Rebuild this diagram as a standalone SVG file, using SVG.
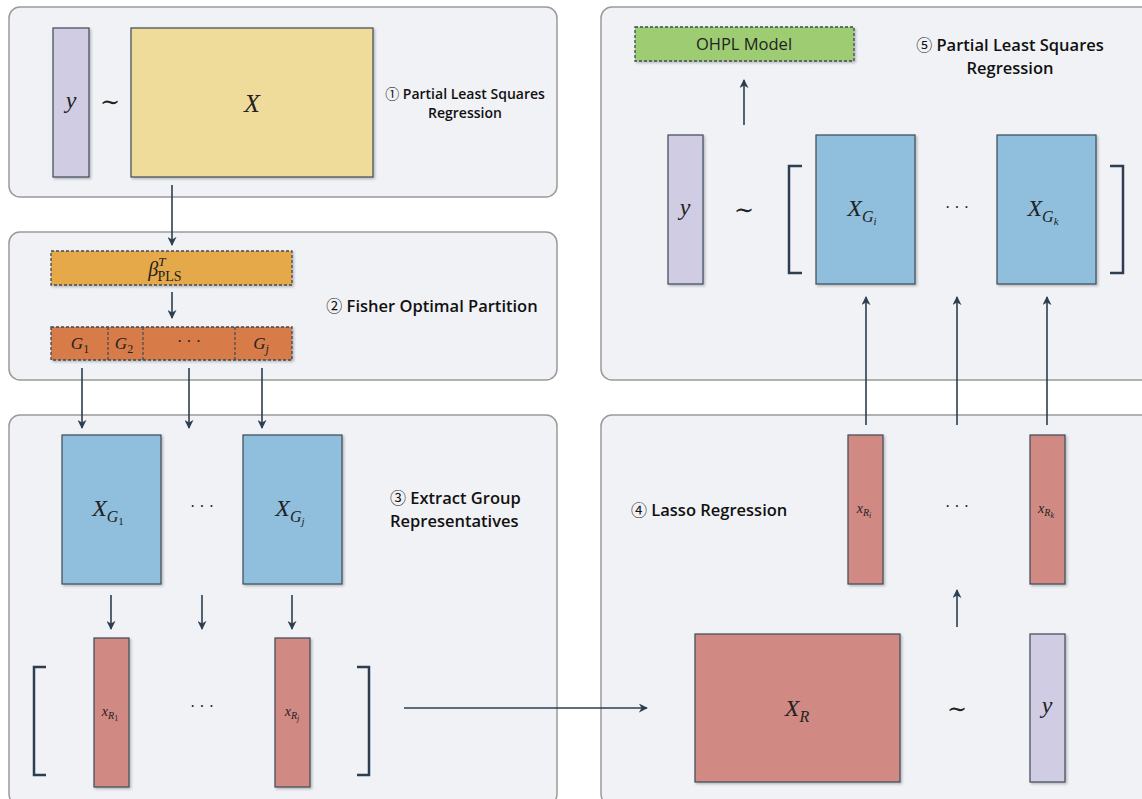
<svg xmlns="http://www.w3.org/2000/svg" width="1142" height="799" viewBox="0 0 1142 799">
<defs>
<marker id="ah" viewBox="0 0 10 10" refX="9" refY="5" markerWidth="9" markerHeight="9" markerUnits="userSpaceOnUse" orient="auto"><path d="M0,0 L10,5 L0,10 L3,5 Z" fill="#2c3e50"/></marker>
<filter id="sh" x="-10%" y="-10%" width="130%" height="130%"><feDropShadow dx="1.5" dy="1.5" stdDeviation="1" flood-color="#000" flood-opacity="0.25"/></filter>
</defs>
<style>
.panel{fill:#f1f2f6;stroke:#9a9a9a;stroke-width:1.5}
.box{stroke:#3d4a55;stroke-width:1.2;filter:url(#sh)}
.dash{stroke:#3d4a55;stroke-width:1.3;stroke-dasharray:3,2;filter:url(#sh)}
.yv{fill:#cfcce3}.xy{fill:#efdb9a}.bl{fill:#8fbfdd}.rd{fill:#d18983}
.conn line,.conn path{stroke:#2c3e50;stroke-width:1.6;fill:none}
.br{stroke:#2c3e50;stroke-width:2.5;fill:none}
.m{font-family:"Liberation Serif","DejaVu Serif",serif;font-style:italic;fill:#222;text-anchor:middle}
.mr{font-family:"Liberation Serif","DejaVu Serif",serif;fill:#222;text-anchor:middle}
.lbl{font-family:"Open Sans","DejaVu Sans",sans-serif;font-weight:600;fill:#111;font-size:16.5px}
.cn{font-family:"Noto Sans CJK SC","DejaVu Sans",sans-serif;font-weight:normal}
</style>
<g id="panel1">
<rect class="panel" x="9" y="7" width="548" height="190" rx="11"/>
<rect class="box yv" x="53" y="28" width="36" height="149"/>
<text class="m" x="71" y="108" font-size="24">y</text>
<text class="mr" x="110" y="110" font-size="24">∼</text>
<rect class="box xy" x="131" y="28" width="242" height="149"/>
<text class="m" x="252" y="112" font-size="26">X</text>
<text class="lbl" x="465" y="99" text-anchor="middle" style="font-size:14px"><tspan class="cn" font-size="14">①</tspan> Partial Least Squares</text>
<text class="lbl" x="465" y="118" text-anchor="middle" style="font-size:14px">Regression</text>
</g>
<g id="panel2">
<rect class="panel" x="9" y="232" width="548" height="148" rx="11"/>
<rect class="dash" x="51" y="251" width="241" height="34" fill="#e5a94a"/>
<text class="m" x="165" y="276" font-size="20">β<tspan font-size="13" dy="-10">T</tspan><tspan font-style="normal" font-size="14" dx="-8" dy="15">PLS</tspan></text>
<rect class="dash" x="51" y="327" width="241" height="33" fill="#d77b4a"/>
<line x1="108" y1="327" x2="108" y2="360" stroke="#3d4a55" stroke-width="1.2" stroke-dasharray="3,2"/>
<line x1="143" y1="327" x2="143" y2="360" stroke="#3d4a55" stroke-width="1.2" stroke-dasharray="3,2"/>
<line x1="235" y1="327" x2="235" y2="360" stroke="#3d4a55" stroke-width="1.2" stroke-dasharray="3,2"/>
<text class="m" x="80" y="349" font-size="17">G<tspan font-style="normal" font-size="12" dy="4">1</tspan></text>
<text class="m" x="124" y="349" font-size="17">G<tspan font-style="normal" font-size="12" dy="4">2</tspan></text>
<text class="mr" x="189" y="347" font-size="16">· · ·</text>
<text class="m" x="261" y="349" font-size="17">G<tspan font-size="12" dy="4">j</tspan></text>
<text class="lbl" x="432" y="312" text-anchor="middle"><tspan class="cn" font-size="16">②</tspan> Fisher Optimal Partition</text>
</g>
<g id="panel3">
<rect class="panel" x="9" y="415" width="548" height="390" rx="11"/>
<rect class="box bl" x="62" y="435" width="99" height="149"/>
<text class="m" x="108" y="516" font-size="24">X<tspan font-size="16" dy="6">G</tspan><tspan font-style="normal" font-size="11" dy="3">1</tspan></text>
<text class="mr" x="202" y="512" font-size="16">·  ·  ·</text>
<rect class="box bl" x="243" y="435" width="99" height="149"/>
<text class="m" x="290" y="516" font-size="24">X<tspan font-size="16" dy="6">G</tspan><tspan font-size="11" dy="3">j</tspan></text>
<text class="lbl" x="390" y="504"><tspan class="cn" font-size="16">③</tspan> Extract Group</text>
<text class="lbl" x="390" y="527">Representatives</text>
<rect class="box rd" x="94" y="638" width="35" height="149"/>
<text class="m" x="110" y="716" font-size="14">x<tspan font-size="10" dy="3">R</tspan><tspan font-style="normal" font-size="8" dy="2">1</tspan></text>
<rect class="box rd" x="275" y="638" width="35" height="149"/>
<text class="m" x="292" y="716" font-size="14">x<tspan font-size="10" dy="3">R</tspan><tspan font-size="8" dy="2">j</tspan></text>
<text class="mr" x="202" y="712" font-size="16">·  ·  ·</text>
<path class="br" d="M46,667 H34 V775 H46"/>
<path class="br" d="M357,667 H369 V775 H357"/>
</g>
<g id="panel5">
<rect class="panel" x="601" y="7" width="560" height="373" rx="11"/>
<rect class="dash" x="635" y="27" width="219" height="34" fill="#9dcc72"/>
<text x="744" y="50" text-anchor="middle" font-family="'Open Sans','DejaVu Sans',sans-serif" font-size="16.5" fill="#222">OHPL Model</text>
<text class="lbl" x="1010" y="51" text-anchor="middle"><tspan class="cn" font-size="16">⑤</tspan> Partial Least Squares</text>
<text class="lbl" x="1010" y="74" text-anchor="middle">Regression</text>
<rect class="box yv" x="668" y="135" width="35" height="149"/>
<text class="m" x="685" y="215" font-size="24">y</text>
<text class="mr" x="744" y="218" font-size="24">∼</text>
<path class="br" d="M802,166 H789 V273 H802"/>
<rect class="box bl" x="816" y="135" width="99" height="149"/>
<text class="m" x="862" y="216" font-size="24">X<tspan font-size="16" dy="6">G</tspan><tspan font-size="11" dy="3">i</tspan></text>
<text class="mr" x="957" y="213" font-size="16">·  ·  ·</text>
<rect class="box bl" x="997" y="135" width="99" height="149"/>
<text class="m" x="1043" y="216" font-size="24">X<tspan font-size="16" dy="6">G</tspan><tspan font-size="11" dy="3">k</tspan></text>
<path class="br" d="M1110,166 H1123 V273 H1110"/>
</g>
<g id="panel4">
<rect class="panel" x="601" y="415" width="560" height="390" rx="11"/>
<text class="lbl" x="631" y="516"><tspan class="cn" font-size="16">④</tspan> Lasso Regression</text>
<rect class="box rd" x="848" y="435" width="35" height="149"/>
<text class="m" x="864" y="513" font-size="14">x<tspan font-size="10" dy="3">R</tspan><tspan font-size="8" dy="2">i</tspan></text>
<text class="mr" x="957" y="512" font-size="16">·  ·  ·</text>
<rect class="box rd" x="1030" y="435" width="35" height="149"/>
<text class="m" x="1046" y="513" font-size="14">x<tspan font-size="10" dy="3">R</tspan><tspan font-size="8" dy="2">k</tspan></text>
<rect class="box rd" x="695" y="634" width="205" height="148"/>
<text class="m" x="797" y="716" font-size="24">X<tspan font-size="16" dy="6">R</tspan></text>
<text class="mr" x="957" y="717" font-size="24">∼</text>
<rect class="box yv" x="1030" y="634" width="35" height="148"/>
<text class="m" x="1047" y="713" font-size="24">y</text>
</g>
<g id="connectors" class="conn">
<line x1="172" y1="185" x2="172" y2="245" marker-end="url(#ah)"/>
<line x1="172" y1="292" x2="172" y2="318" marker-end="url(#ah)"/>
<line x1="82" y1="368" x2="82" y2="428" marker-end="url(#ah)"/>
<line x1="189" y1="368" x2="189" y2="428" marker-end="url(#ah)"/>
<line x1="262" y1="368" x2="262" y2="428" marker-end="url(#ah)"/>
<line x1="111" y1="595" x2="111" y2="629" marker-end="url(#ah)"/>
<line x1="202" y1="595" x2="202" y2="629" marker-end="url(#ah)"/>
<line x1="292" y1="595" x2="292" y2="629" marker-end="url(#ah)"/>
<line x1="404" y1="708" x2="647" y2="708" marker-end="url(#ah)"/>
<line x1="957" y1="627" x2="957" y2="590" marker-end="url(#ah)"/>
<line x1="866" y1="425" x2="866" y2="297" marker-end="url(#ah)"/>
<line x1="957" y1="425" x2="957" y2="297" marker-end="url(#ah)"/>
<line x1="1047" y1="425" x2="1047" y2="297" marker-end="url(#ah)"/>
<line x1="744" y1="125" x2="744" y2="80" marker-end="url(#ah)"/>
</g>
</svg>
